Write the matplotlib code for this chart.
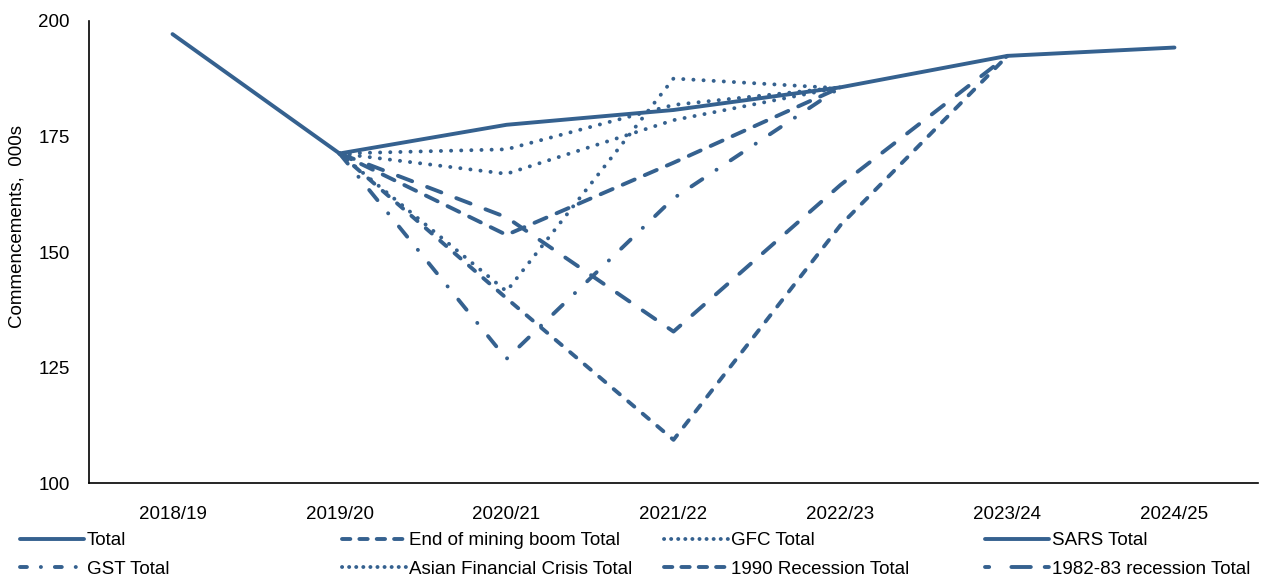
import numpy as np
import matplotlib
matplotlib.use("Agg")
import matplotlib.pyplot as plt
from matplotlib.lines import Line2D

plt.rcParams['font.family'] = ['Liberation Sans', 'DejaVu Sans']
plt.rcParams['lines.scale_dashes'] = False

nan = np.nan
anos = ['2018/19', '2019/20', '2020/21', '2021/22', '2022/23', '2023/24', '2024/25']

total = [197.1, 171.3, 177.5, 180.7, 185.6, 192.4, 194.2]
fin_mineria = [nan, 171.3, 153.7, 169.3, 185.6, nan, nan]
gfc = [nan, 171.3, 141.5, 187.5, 185.4, nan, nan]
sars = [nan, 171.3, 172.2, 181.8, 185.6, nan, nan]
gst = [nan, 171.3, 126.9, 161.6, 185.6, nan, nan]
asiatica = [nan, 171.3, 166.9, 178.5, 185.6, nan, nan]
recesion_1990 = [nan, 171.3, 140.0, 109.4, 155.8, 192.4, nan]
recesion_1982 = [nan, 171.3, 157.5, 132.8, 164.5, 192.4, nan]

color = '#35618f'
lw = 2.8
punto = (0, (0.1, 7.2))
fs = 13.5

# (nombre, datos, estilo en el grafico, estilo en la leyenda)
series = [
    ('Total', total, '-', '-'),
    ('End of mining boom Total', fin_mineria, (0, (9.4, 7.9)), (0, (6.0, 6.5))),
    ('GFC Total', gfc, punto, (0, (0.1, 5.0))),
    ('SARS Total', sars, punto, '-'),
    ('GST Total', gst, (0, (9.4, 12.2, 0.1, 12.2)), (0, (5.0, 10.0, 0.1, 10.0))),
    ('Asian Financial Crisis Total', asiatica, punto, (0, (0.1, 5.0))),
    ('1990 Recession Total', recesion_1990, (0, (5.8, 7.9)), (0, (6.0, 6.5))),
    ('1982-83 recession Total', recesion_1982, (0, (11.0, 11.5)), (0, (3.0, 16.0, 14.0, 10.0))),
]

fig = plt.figure(figsize=(12.61, 5.8), dpi=100)
ax = fig.add_axes([0.0706, 0.1667, 0.9270, 0.7976])

x = np.arange(len(anos))
handles = []
for nombre, datos, estilo, estilo_ley in series:
    ax.plot(x, datos, color=color, lw=lw, linestyle=estilo,
            dash_capstyle='round', solid_capstyle='round', solid_joinstyle='round',
            zorder=3 if estilo == '-' else 2)
    handles.append(Line2D([], [], color=color, lw=lw, linestyle=estilo_ley,
                          dash_capstyle='round', solid_capstyle='round'))

ax.set_xlim(-0.5, 6.5)
ax.set_ylim(100, 200)
ax.set_yticks([100, 125, 150, 175, 200])
ax.set_xticks(x)
ax.set_xticklabels(anos)
ax.tick_params(axis='both', length=0, labelsize=fs)
ax.tick_params(axis='x', pad=16)
ax.tick_params(axis='y', pad=14)
for lado in ['top', 'right']:
    ax.spines[lado].set_visible(False)
for lado in ['left', 'bottom']:
    ax.spines[lado].set_linewidth(1.2)

fig.text(17 / 1261, 1 - 227 / 580, 'Commencements,  000s', rotation=90,
         ha='center', va='center', fontsize=fs)

# leyenda en 4 columnas fijas
columnas_x = [20, 342, 664, 985]
for i, cx in enumerate(columnas_x):
    idx = [i, i + 4]
    fig.legend([handles[j] for j in idx], [series[j][0] for j in idx],
               loc='upper left', bbox_to_anchor=(cx / 1261, 1 - 532 / 580),
               frameon=False, fontsize=fs, handlelength=3.4, handletextpad=0.15,
               labelspacing=0.6, borderaxespad=0, borderpad=0)

fig.savefig('out.png', dpi=100)
